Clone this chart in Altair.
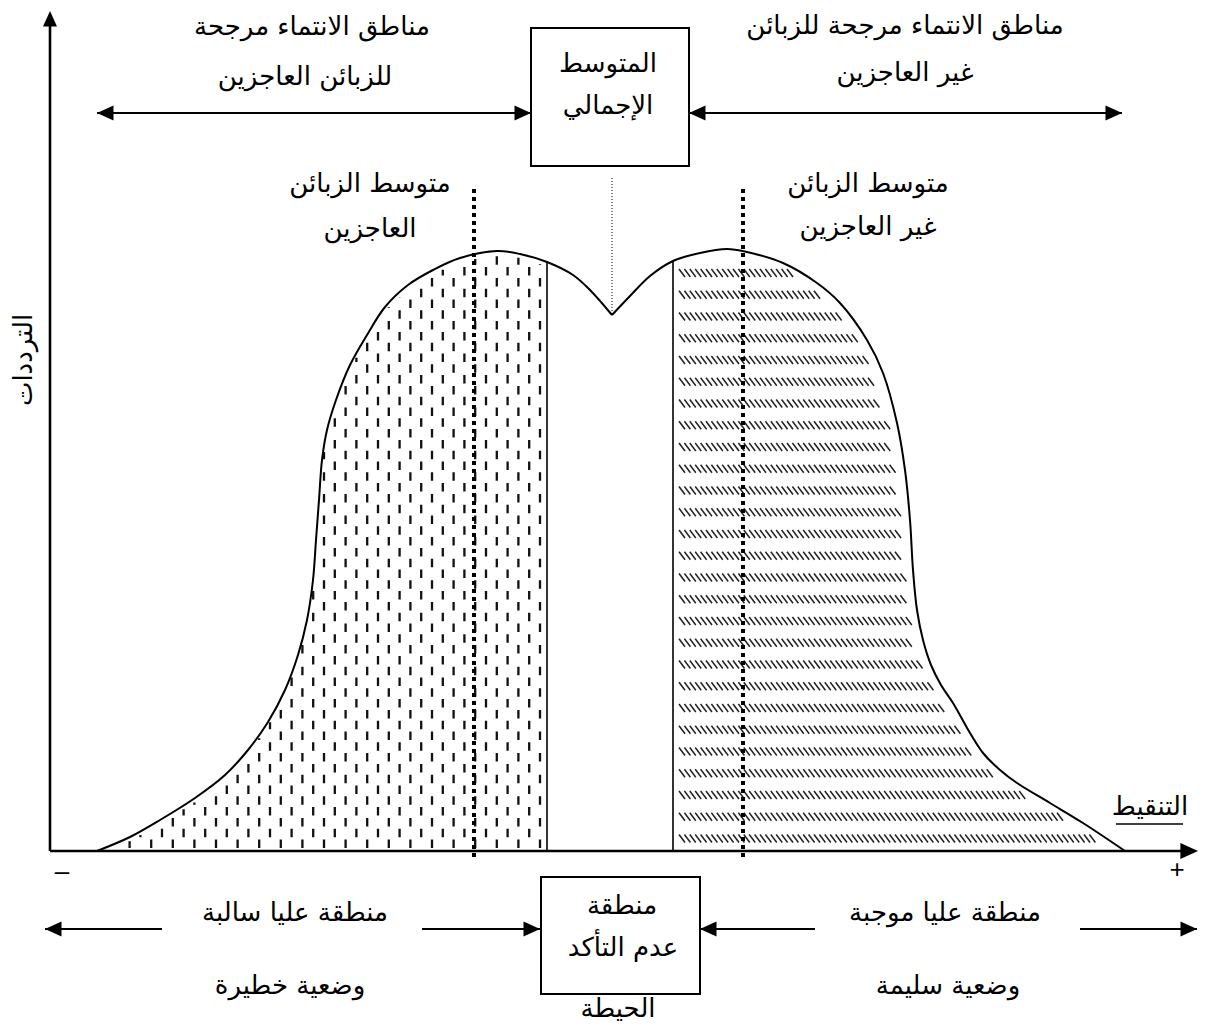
import altair as alt
import numpy as np
import pandas as pd

# ---------------- data (pixel-like units) ----------------
curve_x = [97, 130, 160, 195, 225, 248, 268, 285, 298, 307, 313, 316, 319, 322, 327, 336, 350,
           367, 385, 408, 433, 460, 497, 520, 547, 573, 590, 612, 630, 650, 673, 700, 727, 747,
           783, 817, 840, 867, 883, 897, 905, 910, 913, 917, 923, 931, 941, 953, 970, 983, 1000,
           1017, 1050, 1083, 1125]
curve_y = [851, 837, 820, 798, 775, 750, 722, 690, 655, 620, 580, 540, 500, 460, 430, 400, 365,
           335, 307, 285, 270, 258, 251, 254, 262, 275, 290, 315, 296, 276, 261, 253, 249, 252,
           263, 283, 303, 340, 373, 423, 470, 520, 570, 610, 640, 665, 685, 703, 733, 753, 770,
           783, 803, 823, 851]
dip_x = 612

left_sep_x = 547
right_sep_x = 673
mean_x = [474, 743]          # thick dotted means
overall_mean_x = 612         # thin dotted line
axis_y = 851
axis_x = 50

texts = ["مناطق الانتماء مرجحة", "للزبائن العاجزين",
         "مناطق الانتماء مرجحة للزبائن", "غير العاجزين",
         "المتوسط", "الإجمالي",
         "متوسط الزبائن", "العاجزين",
         "متوسط الزبائن", "غير العاجزين",
         "منطقة عليا سالبة", "وضعية خطيرة",
         "منطقة", "عدم التأكد", "الحيطة",
         "منطقة عليا موجبة", "وضعية سليمة",
         "التنقيط"]
texts_x = [312, 305, 905, 905, 608, 608, 370, 370, 868, 868,
           295, 290, 622, 623, 618, 945, 948, 1150]
texts_y = [27, 77, 26, 73, 64, 106, 184, 229, 184, 227,
           913, 986, 906, 948, 1009, 913, 986, 807]

signs = ["–", "+"]
signs_x = [62, 1177]
signs_y = [872, 870]

ylabel = "الترددات"
ylabel_pos = (24, 360)

boxes_x = [531, 541]
boxes_x2 = [689, 700]
boxes_y = [28, 877]
boxes_y2 = [166, 994]

arrow_x = [97, 689, 45, 422, 700, 1080]
arrow_x2 = [531, 1122, 162, 540, 815, 1197]
arrow_y = [113, 113, 929, 929, 929, 929]

head_left_x = [97, 689, 45, 700]
head_left_y = [113, 113, 929, 929]
head_right_x = [531, 1122, 540, 1197]
head_right_y = [113, 113, 929, 929]

# ---------------- derived tables ----------------
cx = np.array(curve_x, float)
cy = np.array(curve_y, float)
split = curve_x.index(dip_x)
curve_df = pd.DataFrame({
    "x": list(cx[:split + 1]) + list(cx[split:]),
    "y": list(cy[:split + 1]) + list(cy[split:]),
    "part": ["L"] * (split + 1) + ["R"] * (len(cx) - split),
})
curve_df["o"] = range(len(curve_df))

# left hatch: staggered vertical dashes
cols = []
xx = left_sep_x - 7
k = 0
while xx > cx[0] + 3:
    top = np.interp(xx, cx[:split + 1], cy[:split + 1]) + 4
    if top < axis_y - 6:
        cols.append({"x": xx, "y": axis_y - 3, "y2": top, "par": k % 2})
    xx -= 10.8
    k += 1
cols_df = pd.DataFrame(cols)

# right hatch: rows of short diagonal strokes
peak_i = int(np.argmin(cy[split:])) + split
ry = cy[peak_i:]
rx = cx[peak_i:]
strokes = []
yy = 273.0
while yy < 842:
    xmax = np.interp(yy, ry, rx) - 7
    xs = right_sep_x + 9
    while xs + 3 < xmax:
        strokes.append({"x": xs - 3, "y": yy - 4, "x2": xs + 3, "y2": yy + 4})
        xs += 5.4
    yy += 21.75
strokes_df = pd.DataFrame(strokes)

sep_df = pd.DataFrame({
    "x": [left_sep_x, right_sep_x],
    "y": [axis_y, axis_y],
    "y2": [float(np.interp(left_sep_x, cx, cy)), float(np.interp(right_sep_x, cx, cy))],
})
mean_df = pd.DataFrame({"x": mean_x, "y": [857, 857], "y2": [188, 188]})
omean_df = pd.DataFrame({"x": [overall_mean_x], "y": [178], "y2": [float(np.interp(overall_mean_x, cx, cy))]})

axes_df = pd.DataFrame({"x": [axis_x, axis_x], "y": [axis_y, axis_y],
                        "x2": [axis_x, 1185], "y2": [24, axis_y]})
arrows_df = pd.DataFrame({"x": arrow_x, "x2": arrow_x2, "y": arrow_y})
hl_df = pd.DataFrame({"x": head_left_x, "y": head_left_y})
hr_df = pd.DataFrame({"x": head_right_x, "y": head_right_y})
xhead_df = pd.DataFrame({"x": [1198], "y": [axis_y]})
yhead_df = pd.DataFrame({"x": [axis_x], "y": [11]})
boxes_df = pd.DataFrame({"x": boxes_x, "x2": boxes_x2, "y": boxes_y, "y2": boxes_y2})
text_df = pd.DataFrame({"x": texts_x, "y": texts_y, "t": texts})
signs_df = pd.DataFrame({"x": signs_x, "y": signs_y, "t": signs})
ylab_df = pd.DataFrame({"x": [ylabel_pos[0]], "y": [ylabel_pos[1]], "t": [ylabel]})
under_df = pd.DataFrame({"x": [1116], "x2": [1183], "y": [824]})

# ---------------- scales ----------------
XS = alt.Scale(domain=[8, 1199], nice=False, zero=False)
YS = alt.Scale(domain=[8, 1022], nice=False, zero=False, reverse=True)
X = alt.X("x:Q", scale=XS, axis=None)
Y = alt.Y("y:Q", scale=YS, axis=None)

FONT = "DejaVu Sans"
FS = 26

hatch_even = alt.Chart(cols_df[cols_df.par == 0]).mark_rule(
    color="#111", strokeWidth=2.3, strokeDash=[8.5, 13.1]
).encode(x=X, y=Y, y2="y2:Q")
hatch_odd = alt.Chart(cols_df[cols_df.par == 1]).mark_rule(
    color="#111", strokeWidth=2.3, strokeDash=[8.5, 13.1], strokeDashOffset=10.8
).encode(x=X, y=Y, y2="y2:Q")
hatch_diag = alt.Chart(strokes_df).mark_rule(color="#222", strokeWidth=1.5).encode(
    x=X, y=Y, x2="x2:Q", y2="y2:Q")

seps = alt.Chart(sep_df).mark_rule(color="black", strokeWidth=1.6).encode(x=X, y=Y, y2="y2:Q")
curve = alt.Chart(curve_df).mark_line(color="black", strokeWidth=2, interpolate="catmull-rom").encode(
    x=X, y=Y, detail="part:N", order="o:Q")
means = alt.Chart(mean_df).mark_rule(color="black", strokeWidth=4, strokeDash=[4, 4]).encode(
    x=X, y=Y, y2="y2:Q")
omean = alt.Chart(omean_df).mark_rule(color="black", strokeWidth=1, strokeDash=[1, 2]).encode(
    x=X, y=Y, y2="y2:Q")

axes = alt.Chart(axes_df).mark_rule(color="black", strokeWidth=2.6).encode(
    x=X, y=Y, x2="x2:Q", y2="y2:Q")
xhead = alt.Chart(xhead_df).mark_point(shape="M0,0L-2.2,-1L-2.2,1Z", filled=True, size=256,
                                       color="black", opacity=1).encode(x=X, y=Y)
yhead = alt.Chart(yhead_df).mark_point(shape="M0,0L-1,2.2L1,2.2Z", filled=True, size=196,
                                       color="black", opacity=1).encode(x=X, y=Y)

arrows = alt.Chart(arrows_df).mark_rule(color="black", strokeWidth=2).encode(x=X, x2="x2:Q", y=Y)
hl = alt.Chart(hl_df).mark_point(shape="M0,0L2.2,-1L2.2,1Z", filled=True, size=225,
                                 color="black", opacity=1).encode(x=X, y=Y)
hr = alt.Chart(hr_df).mark_point(shape="M0,0L-2.2,-1L-2.2,1Z", filled=True, size=225,
                                 color="black", opacity=1).encode(x=X, y=Y)

boxes = alt.Chart(boxes_df).mark_rect(fill="white", stroke="black", strokeWidth=2).encode(
    x=X, x2="x2:Q", y=Y, y2="y2:Q")

labels = alt.Chart(text_df).mark_text(font=FONT, fontSize=FS, color="black",
                                      align="center", baseline="middle").encode(x=X, y=Y, text="t:N")
signs_l = alt.Chart(signs_df).mark_text(font="Liberation Sans", fontSize=26, color="black",
                                        align="center", baseline="middle").encode(x=X, y=Y, text="t:N")
ylab = alt.Chart(ylab_df).mark_text(font=FONT, fontSize=FS, color="black", angle=270,
                                    align="center", baseline="middle").encode(x=X, y=Y, text="t:N")
underline = alt.Chart(under_df).mark_rule(color="black", strokeWidth=1.5).encode(x=X, x2="x2:Q", y=Y)

chart = alt.layer(
    hatch_even, hatch_odd, hatch_diag, seps, curve, means, omean,
    axes, xhead, yhead, arrows, hl, hr, boxes, labels, signs_l, ylab, underline
).properties(width=1191, height=1014, padding=0, background="white").configure_view(stroke=None)

chart.save("out.html", embed_options={"renderer": "svg", "actions": False})
